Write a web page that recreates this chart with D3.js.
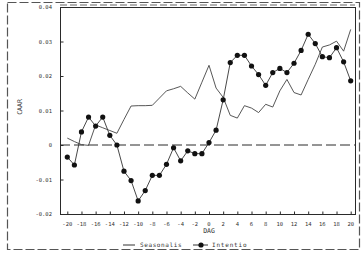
<!DOCTYPE html>
<html>
<head>
<meta charset="utf-8">
<script src="https://cdn.jsdelivr.net/npm/d3@7"></script>
<style>
	body { margin: 0; background: #fff; }
	svg { display: block; }
	text { font-family: "DejaVu Sans Mono", monospace; fill: #333; }
</style>
</head>
<body>
<svg id="chart" width="364" height="254"></svg>
<script>

//############
//### data ###
//############
var days = [-20, -19, -18, -17, -16, -15, -14, -13, -12, -11, -10, -9, -8, -7, -6, -5, -4, -3, -2, -1,
	0, 1, 2, 3, 4, 5, 6, 7, 8, 9, 10, 11, 12, 13, 14, 15, 16, 17, 18, 19, 20];

var seasonals = [0.0020, 0.0010, 0.0001, -0.0001, 0.0058, 0.0050, 0.0042, 0.0034, 0.0074, 0.0113,
	0.0114, 0.0114, 0.0115, 0.0136, 0.0157, 0.0163, 0.0170, 0.0151, 0.0133, 0.0182,
	0.0231, 0.0165, 0.0138, 0.0086, 0.0078, 0.0114, 0.0107, 0.0094, 0.0118, 0.0110,
	0.0157, 0.0190, 0.0152, 0.0145, 0.0190, 0.0234, 0.0284, 0.0290, 0.0301, 0.0272, 0.0335];

var intentio = [-0.0035, -0.0058, 0.0038, 0.0081, 0.0055, 0.0081, 0.0028, 0.0000, -0.0076, -0.0103,
	-0.0162, -0.0132, -0.0088, -0.0088, -0.0056, -0.0008, -0.0046, -0.0017, -0.0025, -0.0025,
	0.0007, 0.0043, 0.0131, 0.0239, 0.0260, 0.0260, 0.0229, 0.0204, 0.0173, 0.0210,
	0.0222, 0.0210, 0.0237, 0.0274, 0.0321, 0.0294, 0.0256, 0.0253, 0.0282, 0.0241, 0.0186];

var xTicks = [-20, -18, -16, -14, -12, -10, -8, -6, -4, -2, 0, 2, 4, 6, 8, 10, 12, 14, 16, 18, 20];
var yTicks = [-0.02, -0.01, 0, 0.01, 0.02, 0.03, 0.04];
var yTickLabels = ["-0.02", "-0.01", "0", "0.01", "0.02", "0.03", "0.04"];

var seriesNames = ["Seasonalis", "Intentio"];

(function(){

	var svg = d3.select("#chart");
	var ink = "#2a2a2a";

	// plot box
	var box = { left: 60, right: 355, top: 7, bottom: 214 };

	var x = d3.scaleLinear()
		.domain([-20, 20])
		.range([67.3, 350.7]);

	var y = d3.scaleLinear()
		.domain([-0.02, 0.04])
		.range([box.bottom, box.top]);

	//###################
	//### frames ###
	//###################
	svg.append("rect")
		.attr("x", 7.5)
		.attr("y", 2.5)
		.attr("width", 352)
		.attr("height", 247)
		.attr("fill", "none")
		.attr("stroke", "#555")
		.attr("stroke-width", 1.2)
		.attr("stroke-dasharray", "9,3");

	svg.append("rect")
		.attr("x", box.left + 0.5)
		.attr("y", box.top + 0.5)
		.attr("width", box.right - box.left)
		.attr("height", box.bottom - box.top)
		.attr("fill", "none")
		.attr("stroke", ink)
		.attr("stroke-width", 1);

	svg.append("line")
		.attr("x1", box.left)
		.attr("x2", box.right)
		.attr("y1", box.top - 2)
		.attr("y2", box.top - 2)
		.attr("stroke", "#666")
		.attr("stroke-dasharray", "7,3");

	//############
	//### axes ###
	//############
	var yAxis = d3.axisRight(y)
		.tickValues(yTicks)
		.tickSize(3)
		.tickFormat("");

	svg.append("g")
		.attr("transform", "translate(" + (box.left + 0.5) + ",0)")
		.call(yAxis)
		.call(function(g){ g.select(".domain").remove(); })
		.selectAll("line")
			.attr("stroke", ink);

	svg.append("g")
		.selectAll("text")
		.data(yTicks)
		.enter()
		.append("text")
			.attr("x", 52)
			.attr("y", function(d){ return y(d) + 2; })
			.attr("text-anchor", "end")
			.attr("font-size", 5.5)
			.text(function(d, i){ return yTickLabels[i]; });

	var xAxis = d3.axisTop(x)
		.tickValues(xTicks)
		.tickSize(3)
		.tickFormat("");

	svg.append("g")
		.attr("transform", "translate(0," + (box.bottom + 0.5) + ")")
		.call(xAxis)
		.call(function(g){ g.select(".domain").remove(); })
		.selectAll("line")
			.attr("stroke", ink);

	svg.append("g")
		.selectAll("text")
		.data(xTicks)
		.enter()
		.append("text")
			.attr("x", function(d){ return x(d); })
			.attr("y", 226)
			.attr("text-anchor", "middle")
			.attr("font-size", 5.5)
			.text(function(d){ return d; });

	svg.append("text")
		.attr("x", x(0))
		.attr("y", 233)
		.attr("text-anchor", "middle")
		.attr("font-size", 6.5)
		.text("DAG");

	svg.append("text")
		.attr("transform", "translate(22,107) rotate(-90)")
		.attr("text-anchor", "middle")
		.attr("font-size", 6.5)
		.text("CAAR");

	// zero line
	svg.append("line")
		.attr("x1", box.left)
		.attr("x2", box.right)
		.attr("y1", y(0))
		.attr("y2", y(0))
		.attr("stroke", ink)
		.attr("stroke-width", 1)
		.attr("stroke-dasharray", "10,4");

	//##############
	//### series ###
	//##############
	var line = d3.line()
		.x(function(d){ return x(d[0]); })
		.y(function(d){ return y(d[1]); });

	svg.append("path")
		.datum(d3.zip(days, seasonals))
		.attr("d", line)
		.attr("fill", "none")
		.attr("stroke", "#444")
		.attr("stroke-width", 0.9);

	svg.append("path")
		.datum(d3.zip(days, intentio))
		.attr("d", line)
		.attr("fill", "none")
		.attr("stroke", "#333")
		.attr("stroke-width", 0.9);

	svg.append("g")
		.selectAll("circle")
		.data(d3.zip(days, intentio))
		.enter()
		.append("circle")
			.attr("cx", function(d){ return x(d[0]); })
			.attr("cy", function(d){ return y(d[1]); })
			.attr("r", 2.6)
			.attr("fill", "#111");

	//##############
	//### legend ###
	//##############
	var legend = svg.append("g")
		.attr("transform", "translate(0,245)");

	legend.append("line")
		.attr("x1", 123)
		.attr("x2", 135)
		.attr("stroke", "#333");

	legend.append("text")
		.attr("x", 140)
		.attr("y", 2)
		.attr("font-size", 6)
		.attr("letter-spacing", 0.6)
		.text(seriesNames[0]);

	legend.append("line")
		.attr("x1", 193)
		.attr("x2", 208)
		.attr("stroke", "#333");

	legend.append("circle")
		.attr("cx", 201)
		.attr("r", 2.6)
		.attr("fill", "#111");

	legend.append("text")
		.attr("x", 212)
		.attr("y", 2)
		.attr("font-size", 6)
		.attr("letter-spacing", 0.8)
		.text(seriesNames[1]);

})();

</script>
</body>
</html>
